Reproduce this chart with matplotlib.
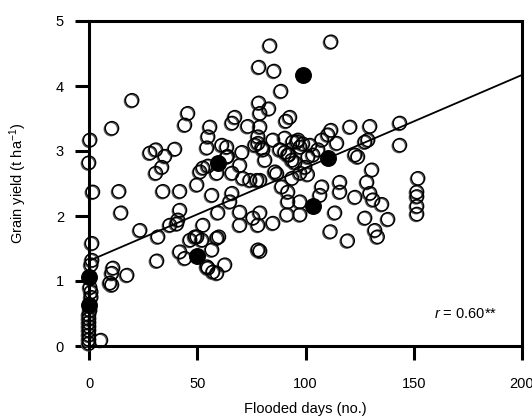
import matplotlib
matplotlib.use("Agg")
import matplotlib.pyplot as plt
import matplotlib.transforms as mtransforms
import numpy as np

plt.rcParams['font.family'] = ['Liberation Sans', 'DejaVu Sans']
plt.rcParams['mathtext.fontset'] = 'custom'
plt.rcParams['mathtext.rm'] = 'Liberation Sans'
plt.rcParams['mathtext.it'] = 'Liberation Sans:italic'

# Open circles: flooded days (x) and grain yield (y)
open_x = [0.5, 0, 1.8, 1.4, 1.4, 1.0, 1.0, 1.0, 0.5, 0, 0, 0, 0, 0, 0, 0, 0, 0.5, 5.5,
          10.6, 19.9, 13.9, 14.8, 23.6, 11.1, 10.6, 17.6, 9.7, 10.6,
          28.2, 30.9, 35.1, 39.7, 33.7, 30.9, 34.2, 42.0, 49.9, 42.0, 41.1, 37.4, 40.6, 31.9,
          31.4, 42.0, 44.3, 56.8, 55.0, 57.3, 59.1, 62.8, 54.5, 46.7, 52.2, 59.1, 78.1,
          52.7, 49.9, 56.8, 66.1, 65.1, 59.6, 69.7, 69.7, 75.8, 71.1, 74.4, 77.6, 55.0, 54.5,
          61.4, 63.7, 70.7, 51.3, 52.7, 59.1, 66.1, 69.7, 76.7,
          45.7, 44.3, 67.4, 66.1, 55.9, 73.4, 78.5, 78.5, 83.6, 111.8, 85.5, 88.7, 83.1, 79.0,
          92.8, 91.0, 79.0, 111.8, 120.6, 129.8, 143.6,
          63.7, 55.0, 86.8, 103.5, 78.1, 80.4, 92.4, 96.1, 98.8,
          143.6, 152.0, 151.5, 151.5, 151.5, 151.5, 138.1, 127.5, 132.1, 133.3, 111.5, 119.5,
          130.7, 128.4, 129.8, 131.2, 135.3, 122.9, 115.9, 115.9, 113.6, 107.6, 106.7, 97.5,
          91.9, 91.5, 97.5, 79.0, 85.0, 78.1, 88.2, 91.9, 93.8, 97.5, 102.1, 105.8, 107.6,
          114.5, 110.4, 127.5, 128.9, 122.9, 124.2, 81.3, 79.9, 78.1, 85.9, 79.0, 89.1, 91.9,
          93.8, 99.8, 97.5, 101.2, 95.2, 85.0, 90.5, 94.2, 96.6, 90.5, 101.0, 79.0, 49.0,
          60.0, 64.0]
open_y = [3.17, 2.82, 2.37, 1.58, 1.32, 1.25, 0.83, 0.75, 0.90, 0.48, 0.42, 0.36, 0.30, 0.24, 0.17, 0.10, 0.04, 0.55, 0.09,
          3.35, 3.78, 2.38, 2.05, 1.78, 1.20, 1.12, 1.09, 0.97, 0.94,
          2.97, 3.02, 2.92, 3.03, 2.75, 2.66, 2.38, 2.38, 2.48, 2.09, 1.94, 1.86, 1.88, 1.68,
          1.31, 1.45, 1.35, 1.48, 1.20, 1.14, 1.12, 1.25, 1.22, 1.63, 1.63, 1.66, 1.48,
          1.86, 1.68, 2.32, 2.35, 2.22, 2.05, 2.06, 1.86, 1.97, 2.58, 2.55, 2.55, 3.22, 3.05,
          3.09, 3.06, 2.98, 2.68, 2.74, 2.66, 2.66, 2.78, 3.09,
          3.58, 3.40, 3.52, 3.43, 3.37, 3.38, 4.29, 3.74, 4.62, 4.68, 4.23, 3.92, 3.65, 3.58,
          3.52, 3.46, 3.37, 3.32, 3.37, 3.38, 3.43,
          2.91, 2.77, 2.65, 2.94, 3.22, 3.02, 2.94, 3.14, 3.11,
          3.09, 2.58, 2.37, 2.30, 2.15, 2.03, 1.95, 1.97, 1.78, 1.68, 1.76, 1.62,
          2.71, 2.52, 2.35, 2.25, 2.18, 2.29, 2.52, 2.37, 2.05, 2.45, 2.32, 2.22,
          2.22, 2.02, 2.02, 2.05, 1.89, 1.86, 3.02, 2.94, 2.86, 3.06, 3.09, 3.02, 3.17,
          3.12, 3.25, 3.14, 3.17, 2.94, 2.91, 2.86, 3.05, 3.12, 2.68, 2.55, 2.45, 2.37,
          2.58, 2.75, 2.66, 2.91, 2.82, 3.17, 3.20, 3.14, 3.17, 2.98, 2.64, 1.46, 1.68,
          1.68, 2.92]

# Filled circles
filled_x = [0, 0, 49.9, 59.6, 98.8, 103.5, 110.4]
filled_y = [1.06, 0.63, 1.38, 2.82, 4.17, 2.15, 2.89]

# Regression line
reg_intercept = 1.31
reg_slope = 0.0143
line_x = [0, 200]
r_text = r'$r$ = 0.60**'

x_ticks = [0, 50, 100, 150, 200]
y_ticks = [0, 1, 2, 3, 4, 5]

fig = plt.figure(figsize=(5.32, 4.16), dpi=100)
ax = fig.add_axes([89/532, 1-346/416, (522-89)/532, (346-21)/416])

shadow = mtransforms.offset_copy(ax.transData, fig=fig, x=-1.0, y=-0.8, units='dots')
ax.scatter(open_x, open_y, s=92, facecolors='none', edgecolors='#555555',
           linewidths=1.0, transform=shadow, clip_on=False, zorder=2)
ax.scatter(open_x, open_y, s=92, facecolors='none', edgecolors='black',
           linewidths=1.0, clip_on=False, zorder=3)

lx = np.array(line_x, dtype=float)
ax.plot(lx, reg_intercept + reg_slope * lx, color='black', lw=1.3, zorder=4)

ax.scatter(filled_x, filled_y, s=125, color='black', clip_on=False, zorder=5)

ax.set_xlim(0, 200)
ax.set_ylim(0, 5)
ax.set_xticks(x_ticks)
ax.set_yticks(y_ticks)
for sp in ax.spines.values():
    sp.set_linewidth(2.2)
ax.tick_params(axis='both', direction='out', length=10, width=2.2, labelsize=10.5)
ax.tick_params(axis='x', pad=12)
ax.tick_params(axis='y', pad=8)

ax.set_xlabel('Flooded days (no.)', fontsize=10.5, labelpad=8)
ax.set_ylabel(r'Grain yield (t ha$^{-1}$)', fontsize=10.5, labelpad=19)
ax.text(188.5, 0.5, r_text, ha='right', va='center', fontsize=10.5)

fig.savefig('out.png', dpi=100)
